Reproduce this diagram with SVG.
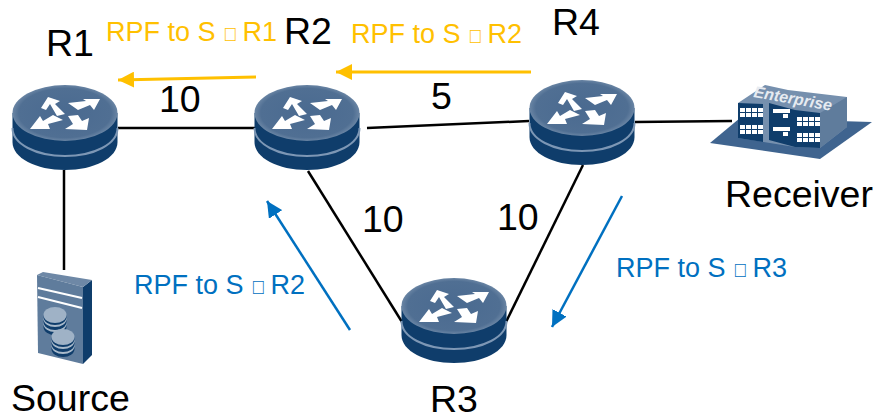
<svg xmlns="http://www.w3.org/2000/svg" width="875" height="420" viewBox="0 0 875 420">
<style>
text{font-family:"Liberation Sans",Arial,sans-serif}
.lbl{font-size:37.500px;fill:#000}
.y{font-size:27px;fill:#FFC000}
.b{font-size:27px;fill:#0070C0}
.t{font-size:19px}
.ln{stroke:#000;stroke-width:2.500;fill:none}
.ya{stroke:#FFC000;stroke-width:3;fill:none;marker-end:url(#ay)}
.ba{stroke:#0070C0;stroke-width:2.500;fill:none;marker-end:url(#ab)}
</style>
<defs>
<marker id="ay" markerUnits="userSpaceOnUse" markerWidth="18" markerHeight="16" refX="16" refY="8" orient="auto"><path d="M0 0L16 8L0 16Z" fill="#FFC000"/></marker>
<marker id="ab" markerUnits="userSpaceOnUse" markerWidth="18" markerHeight="16" refX="16" refY="8" orient="auto"><path d="M0 0L16 8L0 16Z" fill="#0070C0"/></marker>
<radialGradient id="top" cx="0.5" cy="0.5" r="0.55"><stop offset="0" stop-color="#4a6a90"/><stop offset="0.8" stop-color="#506f93"/><stop offset="1" stop-color="#7f97b2"/></radialGradient>
<g id="router">
<path d="M-52.500 0V29C-52.500 45 -29 57 0 57S52.500 45 52.500 29V0Z" fill="#0f3d6b"/>
<path d="M-52.500 15C-52.500 31 -29 43 0 43S52.500 31 52.500 15" fill="none" stroke="#7d97b5" stroke-width="2"/>
<ellipse cx="0" cy="0" rx="52.500" ry="28" fill="url(#top)"/>
<g fill="#fff">
<path d="M-24 -5L-17 -16L-5 -12L-10 -9L0 1L-8 3L-15 -9L-19 -3Z"/>
<path d="M35 -14L29 -3L25 -8L13 -3L3 -10L21 -12L18 -14Z"/>
<path d="M-35 16L-25 3L-22 8L-12 2L-2 7L-17 11L-15 16Z"/>
<path d="M3 3L13 2L17 8L24 5L22 17L0 16L8 11Z"/>
</g>
</g>
<g id="win" fill="#fff">
<path d="M0 0h5v4h-5zM6 0h5v4h-5zM12 0h5v4h-5zM18 0h5v4h-5zM0 5h5v4h-5zM6 5h5v4h-5zM12 5h5v4h-5zM18 5h5v4h-5z"/>
</g>
<g id="disc">
<ellipse cx="0" cy="10" rx="11.500" ry="8" fill="#0f3d6b"/>
<ellipse cx="0" cy="7" rx="11.500" ry="8" fill="#a9bacb"/>
<ellipse cx="0" cy="5" rx="11.500" ry="8" fill="#0f3d6b"/>
<ellipse cx="0" cy="2" rx="11.500" ry="8" fill="#a9bacb"/>
<ellipse cx="0" cy="0" rx="11.500" ry="8" fill="#0f3d6b"/>
<ellipse cx="0" cy="-2" rx="11.500" ry="8" fill="#9fb2c6"/>
</g>
</defs>
<g id="connectors">
<line class="ln" x1="118" y1="128" x2="255" y2="128"/>
<line class="ln" x1="367" y1="128" x2="529" y2="121"/>
<line class="ln" x1="635" y1="122" x2="732" y2="121"/>
<line class="ln" x1="64" y1="170" x2="64" y2="270"/>
<line class="ln" x1="308" y1="171" x2="402" y2="322"/>
<line class="ln" x1="583" y1="165" x2="506" y2="322"/>
<line class="ya" x1="256" y1="77" x2="118" y2="80"/>
<line class="ya" x1="531" y1="72" x2="336" y2="72"/>
<line class="ba" x1="350" y1="330" x2="267" y2="201"/>
<line class="ba" x1="622" y1="196" x2="552" y2="327"/>
</g>
<g id="R1"><use href="#router" x="65" y="113"/><text class="lbl" x="46" y="56">R1</text></g>
<g id="R2"><use href="#router" x="307" y="113"/><text class="lbl" x="284" y="44">R2</text></g>
<g id="R4"><use href="#router" x="582" y="108"/><text class="lbl" x="552" y="35">R4</text></g>
<g id="R3"><use href="#router" x="454" y="306"/><text class="lbl" x="430" y="412">R3</text></g>
<g id="Source">
<path d="M83 287L92 280V355L83 364Z" fill="#0f3d6b"/>
<path d="M37 275L43 272L92 280L83 287Z" fill="#6e88a6"/>
<path d="M37 275L83 287V364L38 353Z" fill="#5f7c9c"/>
<path d="M38 288L82 298M38 297L82 308" stroke="#fff" stroke-width="2"/>
<use href="#disc" x="55" y="317"/>
<use href="#disc" x="63" y="339"/>
<text class="lbl" x="11" y="411">Source</text>
</g>
<g id="Receiver">
<path d="M710 143L740 118L872 122L820 159Z" fill="#3f648f"/>
<path d="M738 103L765 85L788 90L847 97V127L820 148L795 147L738 138Z" fill="#7690ae"/>
<path d="M820 113L847 97V127L820 148Z" fill="#5f7c9c"/>
<path d="M738 103L763 104V142L738 138ZM769 103L795 110L820 113V148L795 147L769 140Z" fill="#0f3d6b"/>
<g fill="#fff">
<use href="#win" x="740" y="108"/>
<use href="#win" x="740" y="125"/>
<use href="#win" x="797" y="117"/>
<use href="#win" x="797" y="133"/>
<path d="M773 109h17v4h-17zM783 114h5v4h-5zM773 127h17v4h-17zM783 132h5v4h-5z"/>
</g>
<text x="753" y="97" transform="rotate(10 753 97)" font-size="16" font-style="italic" font-weight="bold" fill="#e6ebf1">Enterprise</text>
<text class="lbl" x="725" y="207">Receiver</text>
</g>
<g id="labels">
<text class="lbl" x="159" y="112">10</text>
<text class="lbl" x="431" y="109">5</text>
<text class="lbl" x="362" y="232">10</text>
<text class="lbl" x="497" y="230">10</text>
<text class="y" x="106" y="41">RPF to S <tspan class="t">&#xF0E0; </tspan>R1</text>
<text class="y" x="351" y="43">RPF to S <tspan class="t">&#xF0E0; </tspan>R2</text>
<text class="b" x="134" y="294">RPF to S <tspan class="t">&#xF0E0; </tspan>R2</text>
<text class="b" x="616" y="277">RPF to S <tspan class="t">&#xF0E0; </tspan>R3</text>
</g>
</svg>
